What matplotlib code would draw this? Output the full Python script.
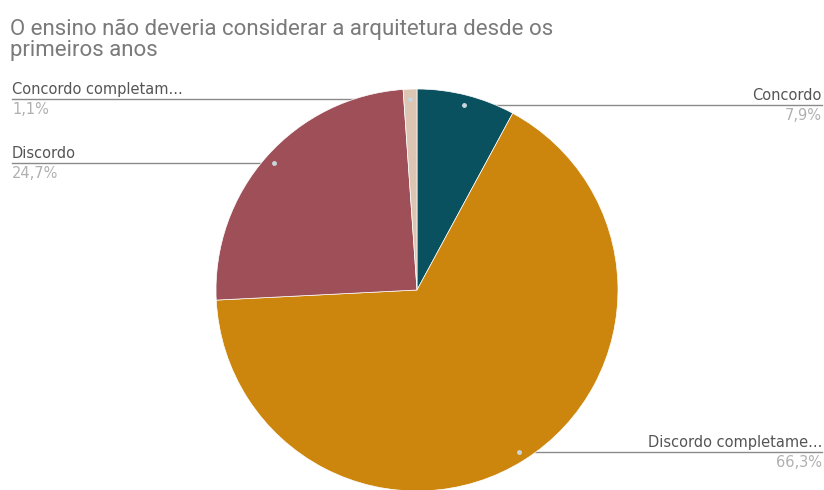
import numpy as np
import matplotlib.pyplot as plt

# respostas (sentido horário a partir do topo)
labels = ['Concordo', 'Discordo completamente', 'Discordo', 'Concordo completamente']
short_labels = ['Concordo', 'Discordo completame...', 'Discordo', 'Concordo completam...']
values = [7.9, 66.3, 24.7, 1.1]
colors = ['#0a5160', '#cc860e', '#9e4f58', '#dcc5b2']

title = 'O ensino não deveria considerar a arquitetura desde os\nprimeiros anos'

W, H = 824, 490
fig = plt.figure(figsize=(W / 100, H / 100), dpi=100)
ax = fig.add_axes([0, 0, 1, 1])

cx, cy, R = 417, H - 290, 201
wedges, _ = ax.pie(values, colors=colors, startangle=90, counterclock=False,
                   center=(cx, cy), radius=R, frame=True,
                   wedgeprops=dict(linewidth=0.5, edgecolor='white', zorder=2))
ax.set_xlim(0, W)
ax.set_ylim(0, H)
ax.set_aspect('equal')
ax.axis('off')

fig.text(10 / W, 1 - 19 / H, title, fontsize=16, color='#7a7a7a',
         family='Roboto', va='top', linespacing=0.98)

# rótulos com linhas de chamada
for w, lab, v in zip(wedges, short_labels, values):
    ang = np.deg2rad((w.theta1 + w.theta2) / 2)
    px = cx + 0.95 * R * np.cos(ang)
    py = cy + 0.95 * R * np.sin(ang)
    if np.cos(ang) > 0.1:
        x_end, ha = 822, 'right'
    else:
        x_end, ha = 12, 'left'
    ax.plot([px, x_end], [py, py], color='#8a8a8a', lw=1.0, zorder=1)
    ax.plot(px, py, 'o', ms=2.5, color='#c9d6dc', zorder=4)
    ax.text(x_end, py + 2, lab, ha=ha, va='bottom', fontsize=10.5,
            color='#555555', family='DejaVu Sans')
    ax.text(x_end, py - 3, f'{v:.1f}%'.replace('.', ','), ha=ha, va='top',
            fontsize=10.5, color='#b0b0b0', family='DejaVu Sans')

fig.savefig('out.png', dpi=100, facecolor='white')
